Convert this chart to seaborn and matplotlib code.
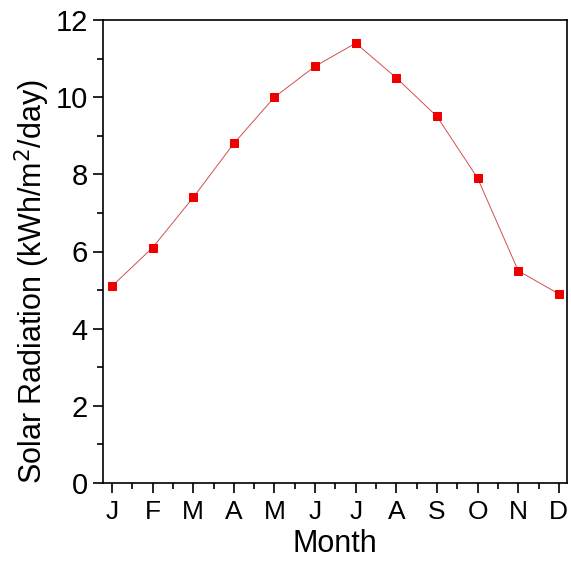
import matplotlib
matplotlib.use("Agg")
import matplotlib.pyplot as plt
import seaborn as sns
import pandas as pd
from matplotlib.ticker import MultipleLocator

months = ["J", "F", "M", "A", "M", "J", "J", "A", "S", "O", "N", "D"]
radiation = [5.1, 6.1, 7.4, 8.8, 10.0, 10.8, 11.4, 10.5, 9.5, 7.9, 5.5, 4.9]

df = pd.DataFrame({"idx": list(range(len(months))), "rad": radiation})

sns.set_style("ticks")
plt.rcParams["font.family"] = ["Liberation Sans", "DejaVu Sans"]
plt.rcParams["text.color"] = "black"
plt.rcParams["axes.labelcolor"] = "black"
plt.rcParams["xtick.color"] = "black"
plt.rcParams["ytick.color"] = "black"

fig = plt.figure(figsize=(5.71, 5.61), dpi=100)
ax = fig.add_axes([103/571, 1-483/561, (567-103)/571, (483-20)/561])

sns.lineplot(data=df, x="idx", y="rad", ax=ax, color="#d05050", linewidth=0.7,
             marker="s", markersize=6, markerfacecolor="#ee0000",
             markeredgecolor="#ee0000")

ax.set_xlim(-0.22, 11.2)
ax.set_ylim(0, 12)
ax.set_xticks(range(len(months)))
ax.set_xticklabels(months)
ax.xaxis.set_minor_locator(MultipleLocator(0.5))
ax.yaxis.set_major_locator(MultipleLocator(2))
ax.yaxis.set_minor_locator(MultipleLocator(1))
ax.tick_params(axis="x", labelsize=19, pad=5)
ax.tick_params(axis="y", labelsize=21, pad=4)
ax.tick_params(which="major", direction="out", length=7, width=1.2, color="black",
               labelcolor="black")
ax.tick_params(which="minor", direction="out", length=4, width=1.2, color="black")
for s in ax.spines.values():
    s.set_linewidth(1.2)
    s.set_color("black")

ax.set_xlabel("Month", fontsize=22, labelpad=4)
ax.set_ylabel("Solar Radiation (kWh/m$^2$/day)", fontsize=22)
ax.yaxis.set_label_coords(-0.109, 0.436)

fig.savefig("out.png", dpi=100)
